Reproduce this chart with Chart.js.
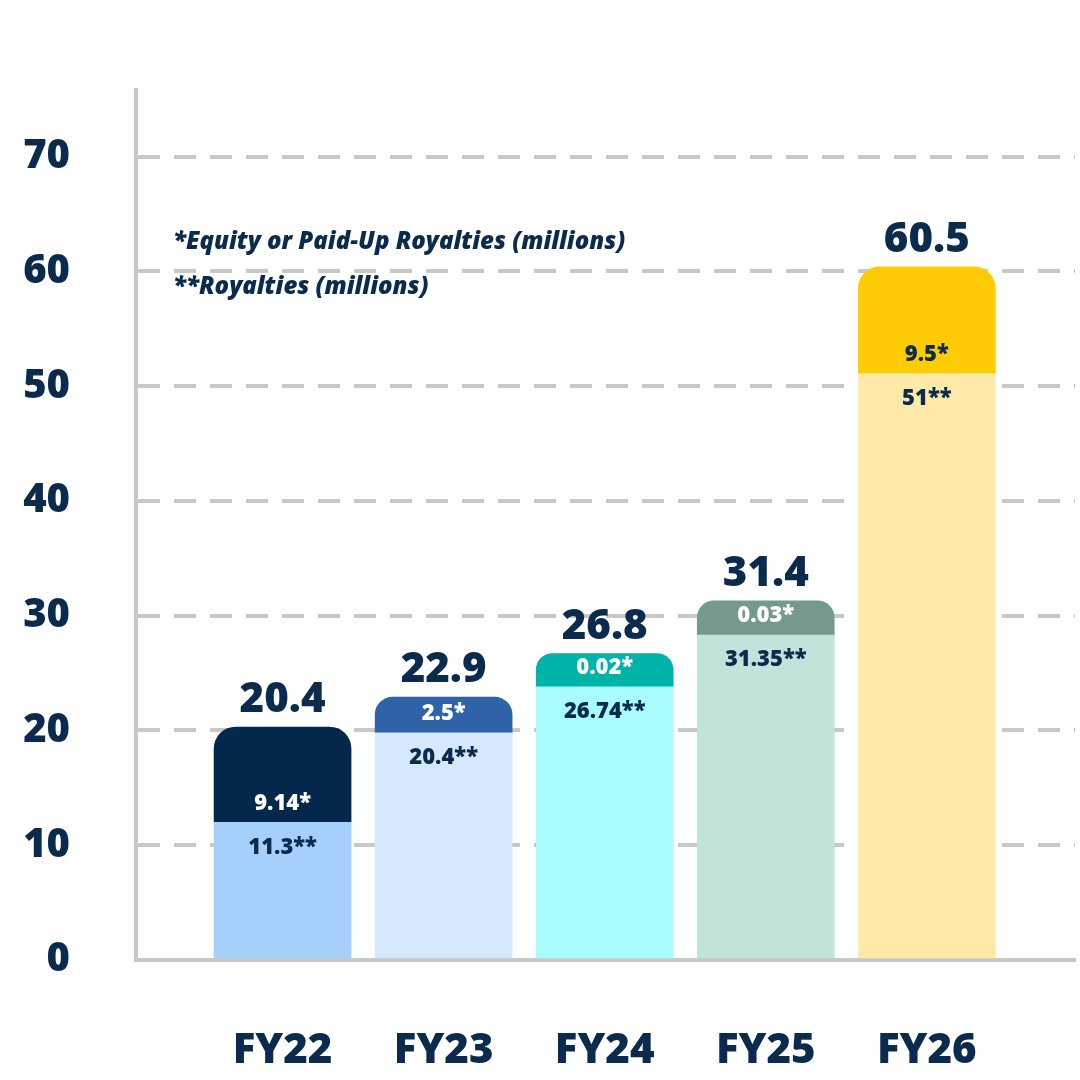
<!DOCTYPE html>
<html>
<head>
<meta charset="utf-8">
<script src="https://cdn.jsdelivr.net/npm/chart.js@4"></script>
<style>
  html, body { margin: 0; padding: 0; background: #fff; }
  #wrap { width: 1080px; height: 1080px; }
</style>
</head>
<body>
<div id="wrap"><canvas id="chart" width="1080" height="1080"></canvas></div>
<script>
// Data
const categories = ['FY22', 'FY23', 'FY24', 'FY25', 'FY26'];
const royalties = [12.0, 19.8, 23.8, 28.3, 51.1];     // bottom segment (as drawn)
const equity = [8.3, 3.1, 2.9, 3.0, 9.3];              // top segment (as drawn)
const totalLabels = ['20.4', '22.9', '26.8', '31.4', '60.5'];
const equityLabels = ['9.14*', '2.5*', '0.02*', '0.03*', '9.5*'];
const royaltyLabels = ['11.3**', '20.4**', '26.74**', '31.35**', '51**'];
const yTicks = [0, 10, 20, 30, 40, 50, 60, 70];

const bottomColors = ['#a4d0fb', '#d6e8fd', '#a8fdfc', '#c2e3da', '#feeaa6'];
const topColors = ['#03284b', '#2f62a6', '#00b3a8', '#739a8c', '#ffcc04'];
const equityTextColors = ['#ffffff', '#ffffff', '#ffffff', '#ffffff', '#0a2a4e'];
const navy = '#0a2a4e';
const grey = '#c8c8c8';
const FONT = '"Open Sans", sans-serif';

// Labels on and above bars
const barLabels = {
    id: 'barLabels',
    afterDatasetsDraw(chart) {
        const ctx = chart.ctx;
        const bottomMeta = chart.getDatasetMeta(0);
        const topMeta = chart.getDatasetMeta(1);
        ctx.save();
        ctx.textAlign = 'center';
        ctx.textBaseline = 'middle';
        categories.forEach((c, i) => {
            const x = bottomMeta.data[i].x;
            const joint = bottomMeta.data[i].y;
            const top = topMeta.data[i].y;
            ctx.fillStyle = navy;
            ctx.font = '800 42px ' + FONT;
            ctx.fillText(totalLabels[i], x, top - 27);
            ctx.font = '800 22px ' + FONT;
            ctx.fillStyle = equityTextColors[i];
            ctx.fillText(equityLabels[i], x, joint - 19);
            ctx.fillStyle = navy;
            ctx.fillText(royaltyLabels[i], x, joint + 25);
        });
        // footnote legend
        ctx.textAlign = 'left';
        ctx.font = 'italic 800 24px ' + FONT;
        ctx.fillStyle = navy;
        ctx.fillText('*Equity or Paid-Up Royalties (millions)', 173, 242);
        ctx.fillText('**Royalties (millions)', 173, 287);
        ctx.restore();
    }
};

new Chart(document.getElementById('chart').getContext('2d'), {
    type: 'bar',
    data: {
        datasets: [{
            label: 'Royalties',
            data: royalties.map((v, i) => ({ x: i, y: v })),
            backgroundColor: bottomColors,
            barThickness: 137,
            borderSkipped: false,
            borderRadius: 0
        }, {
            label: 'Equity',
            data: equity.map((v, i) => ({ x: i, y: v })),
            backgroundColor: topColors,
            barThickness: 137,
            borderSkipped: false,
            borderRadius: { topLeft: 22, topRight: 22, bottomLeft: 0, bottomRight: 0 }
        }]
    },
    options: {
        responsive: false,
        animation: false,
        layout: { padding: { top: 5, right: 5, left: 0, bottom: 0 } },
        plugins: { legend: { display: false }, tooltip: { enabled: false } },
        scales: {
            x: {
                type: 'linear',
                stacked: true,
                offset: false,
                min: -0.91,
                max: 4.92,
                afterBuildTicks(scale) {
                    scale.ticks = categories.map((c, i) => ({ value: i }));
                },
                afterFit(scale) { scale.height = 120; },
                grid: { display: false },
                border: { color: grey, width: 4 },
                ticks: {
                    callback: (v) => categories[v],
                    color: navy,
                    font: { family: FONT, size: 42, weight: '800' },
                    padding: 58,
                    maxRotation: 0,
                    autoSkip: false
                }
            },
            y: {
                stacked: true,
                min: 0,
                max: 75.8,
                afterBuildTicks(scale) {
                    scale.ticks = yTicks.map(v => ({ value: v }));
                },
                afterFit(scale) { scale.width = 136; },
                grid: {
                    color: (ctx) => (ctx.tick && ctx.tick.value > 0 ? grey : 'rgba(0,0,0,0)'),
                    lineWidth: 4,
                    tickLength: 0
                },
                border: { color: grey, width: 4, dash: [22, 14] },
                ticks: {
                    color: navy,
                    font: { family: FONT, size: 40, weight: '800' },
                    padding: 66
                }
            }
        }
    },
    plugins: [barLabels]
});
</script>
</body>
</html>
